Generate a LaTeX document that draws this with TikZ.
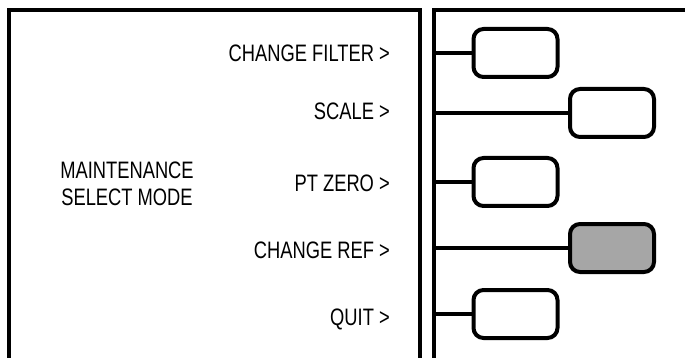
\documentclass[tikz,border=0pt]{standalone}
\usepackage{fontspec}
\setmainfont{Liberation Sans}[FakeStretch=0.77]
\begin{document}
\begin{tikzpicture}[x=1pt,y=-1pt,
  frame/.style={line width=4pt},
  conn/.style={line width=4pt},
  keybox/.style={draw,line width=4pt,rounded corners=10pt,minimum width=84pt,minimum height=48pt,inner sep=0pt},
  menu/.style={anchor=base east,inner sep=0pt,font=\fontsize{23.8}{26}\selectfont},
  title/.style={anchor=base,inner sep=0pt,font=\fontsize{23.8}{26}\selectfont}]
\useasboundingbox (0,0) rectangle (685,358);
\draw[frame] (9,370) -- (9,10) -- (420,10) -- (420,370);
\draw[frame] (434,370) -- (434,10) coordinate (rtop) -- (700,10);
\coordinate (b1) at (434,53);
\coordinate (b2) at (434,113);
\coordinate (b3) at (434,182);
\coordinate (b4) at (434,248);
\coordinate (b5) at (434,314);
\node[keybox] (k1) at (515.5,53) {};
\node[keybox] (k2) at (612,113) {};
\node[keybox] (k3) at (515.5,182) {};
\node[keybox,fill={rgb,255:red,166;green,166;blue,166}] (k4) at (612,248) {};
\node[keybox] (k5) at (515.5,314) {};
\draw[conn] (b1) -- (k1.west);
\draw[conn] (b2) -- (k2.west);
\draw[conn] (b3) -- (k3.west);
\draw[conn] (b4) -- (k4.west);
\draw[conn] (b5) -- (k5.west);
\node[menu] (m1) at (390,62) {CHANGE FILTER >};
\node[menu] (m2) at (390,120) {SCALE >};
\node[menu] (m3) at (390,192) {PT ZERO >};
\node[menu] (m4) at (390,258.5) {CHANGE REF >};
\node[menu] (m5) at (390,325) {QUIT >};
\node[title] (t1) at (127,179) {MAINTENANCE};
\node[title] (t2) at (127,205) {SELECT MODE};
\end{tikzpicture}
\end{document}
